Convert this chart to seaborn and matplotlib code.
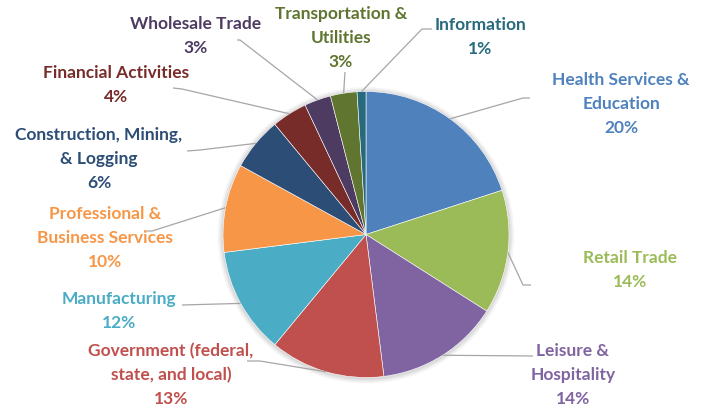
import numpy as np
import matplotlib
matplotlib.use("Agg")
import matplotlib.pyplot as plt
import seaborn as sns

# Share of employment by industry
industries = [
    "Health Services &\nEducation",
    "Retail Trade",
    "Leisure &\nHospitality",
    "Government (federal,\nstate, and local)",
    "Manufacturing",
    "Professional &\nBusiness Services",
    "Construction, Mining,\n& Logging",
    "Financial Activities",
    "Wholesale Trade",
    "Transportation &\nUtilities",
    "Information",
]
shares = [20, 14, 14, 13, 12, 10, 6, 4, 3, 3, 1]
slice_colors = [
    "#4F81BD", "#9BBB59", "#8064A2", "#C0504D", "#4BACC6", "#F79646",
    "#2C4D75", "#772C2A", "#4D3B62", "#5F7530", "#276A7C",
]

# label layout in pixels: text centre, elbow of the leader line, end of the leader line
label_layout = [
    ((621, 104), (523, 99), (530, 99)),
    ((630, 270), (523, 286), (531, 286)),
    ((573, 375), (533, 357), (533, 357)),
    ((171, 375), (260, 362), (247, 362)),
    ((119, 311), (182, 306), (182, 306)),
    ((105, 238), (152, 232), (147, 232)),
    ((99, 159), (200, 151), (187, 152)),
    ((116, 85), (182, 90), (173, 89)),
    ((196, 36), (240, 41), (237, 41)),
    ((341, 38), (345, 73), (345, 73)),
    ((480, 37), (422, 30), (432, 30)),
]

W, H = 705, 410
CX, CY, R = 366, 235.5, 143


def to_data(p):
    # pixel position (origin top left) -> data units of the pie (radius 1)
    return (p[0] - CX) / R, (CY - p[1]) / R


sns.set_theme(style="white")
plt.rcParams["font.family"] = ["Lato", "DejaVu Sans"]

fig = plt.figure(figsize=(W / 100, H / 100), dpi=100)
ax = fig.add_axes([0, 0, 1, 1])

palette = sns.color_palette(slice_colors)

# soft shadow behind the pie
for k, a in enumerate([0.06, 0.05, 0.04]):
    ax.add_patch(plt.Circle((0.0, -0.005), 1.0 + 0.012 * (k + 1), color="black",
                            alpha=a, lw=0, zorder=0))

wedges, _ = ax.pie(shares, colors=palette, startangle=90, counterclock=False,
                   radius=1.0, center=(0, 0),
                   wedgeprops=dict(linewidth=0.4, edgecolor="white"))

for w, name, val, col, (txt, elbow, end) in zip(wedges, industries, shares,
                                                 palette, label_layout):
    mid = np.deg2rad((w.theta1 + w.theta2) / 2)
    sx, sy = np.cos(mid), np.sin(mid)
    ex, ey = to_data(elbow)
    fx, fy = to_data(end)
    ax.plot([sx, ex, fx], [sy, ey, fy], color="#A6A6A6", lw=0.9,
            solid_capstyle="butt", zorder=1)
    tx, ty = to_data(txt)
    ax.text(tx, ty, f"{name}\n{val}%", ha="center", va="center",
            color=col, fontsize=12.5, fontweight="bold", linespacing=1.62)

ax.set_xlim(-CX / R, (W - CX) / R)
ax.set_ylim(-(H - CY) / R, CY / R)
ax.set_aspect("equal")
ax.axis("off")

fig.savefig("out.png", dpi=100)
